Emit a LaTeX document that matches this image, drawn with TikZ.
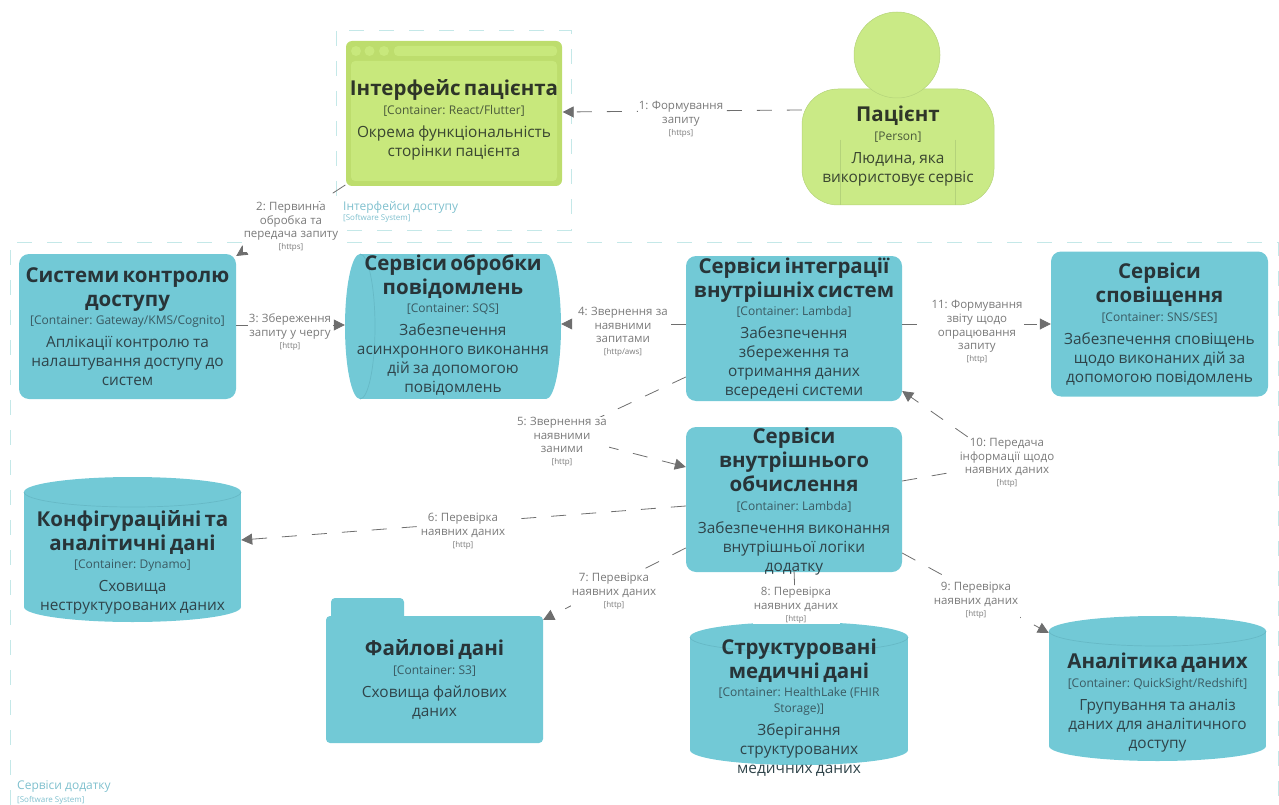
\documentclass[tikz,border=0pt]{standalone}
\usepackage{fontspec}
\setmainfont{Open Sans}
\usetikzlibrary{arrows.meta,backgrounds}
\frenchspacing
\definecolor{blueC}{HTML}{72C9D6}
\definecolor{blueE}{HTML}{66B9C6}
\definecolor{greenO}{HTML}{BDDD6D}
\definecolor{greenI}{HTML}{C8E87C}
\definecolor{greenP}{HTML}{CAEA86}
\definecolor{greenE}{HTML}{B4D37A}
\definecolor{titleC}{HTML}{283438}
\definecolor{bodyC}{HTML}{2F444A}
\definecolor{techC}{HTML}{3A5A62}
\definecolor{lineC}{HTML}{6E6E6E}
\definecolor{lblC}{HTML}{7A7A7A}
\definecolor{bndC}{HTML}{C4E8E8}
\definecolor{capC}{HTML}{7FC0CE}
\newcommand\ct[3]{{\fontsize{20.5}{24}\selectfont\bfseries\color{titleC}#1\par}\vspace{3pt}%
{\fontsize{12}{15.5}\selectfont\color{techC}#2\par}\vspace{4pt}%
{\fontsize{15.4}{19}\selectfont\color{bodyC}#3\par}}
\newcommand\lb[2]{{\fontsize{11.5}{13.7}\selectfont #1\par}{\fontsize{8}{12}\selectfont [#2]\par}}
\newcommand\vcyl[5]{% x1,y1,x2,y2,name
  \pgfmathsetmacro\cxv{(#1+#3)/2}\pgfmathsetmacro\wv{(#3-#1)/2}
  \begin{scope}[on background layer]
  \fill[blueC] (#1,#2+15) rectangle (#3,#4-15);
  \fill[blueC] (\cxv,#2+15) ellipse [x radius=\wv pt,y radius=15pt];
  \fill[blueC] (\cxv,#4-15) ellipse [x radius=\wv pt,y radius=15pt];
  \draw[blueE,line width=.7pt] (#1,#2+15) .. controls (#1,#2+23.3) and (\cxv-.55*\wv,#2+30) .. (\cxv,#2+30) .. controls (\cxv+.55*\wv,#2+30) and (#3,#2+23.3) .. (#3,#2+15);
  \end{scope}}
\tikzset{
  cont/.style={fill=blueC,rounded corners=10pt,minimum width=217pt,minimum height=145pt,text width=215pt,inner sep=0pt,align=center},
  ctxt/.style={minimum width=217pt,text width=215pt,inner sep=0pt,align=center},
  greentxt/.style={execute at begin node={\definecolor{titleC}{HTML}{2E3528}\definecolor{bodyC}{HTML}{3A4630}\definecolor{techC}{HTML}{4A5A3A}}},
  conn/.style={draw=lineC,line width=.8pt,dash pattern=on 15pt off 15pt,-{Triangle[length=11pt,width=11pt]}},
  lbl/.style={fill=white,text=lblC,align=center,inner sep=.5pt,text width=#1},
  bnd/.style={draw=bndC,line width=1pt,dash pattern=on 15pt off 15pt},
  captxt/.style={anchor=west,inner sep=0pt,text=capC}
}
\begin{document}
\begin{tikzpicture}[x=1pt,y=-1pt]
\useasboundingbox (0,0) rectangle (1279,805);
\begin{scope}[on background layer]
  \draw[bnd] (336,31) rectangle (571,230);
  \draw[bnd] (10,805) -- (10,242) -- (1278,242) -- (1278,805);
  % interface window
  \fill[greenO,rounded corners=6pt] (346,41) rectangle (562,186);
  \fill[greenI,rounded corners=4pt] (351,61) rectangle (557,181);
  \fill[greenI,rounded corners=4pt] (394,46) rectangle (557,56);
  \foreach \xd in {356,369.5,384}{\fill[greenI] (\xd,51) circle (5pt);}
  % person
  \fill[greenP,draw=greenE,line width=.5pt,rounded corners=36pt] (802,89) rectangle (994,205);
  \fill[greenP,draw=greenE,line width=.5pt] (897,55) circle (43pt);
  \draw[greenE,line width=.5pt] (840,140) -- (840,205) (955,140) -- (955,205);
  % sqs cylinder
  \fill[blueC] (360,254) rectangle (546,399);
  \fill[blueC] (360,326.5) ellipse [x radius=15pt,y radius=72.5pt];
  \fill[blueC] (546,326.5) ellipse [x radius=15pt,y radius=72.5pt];
  \draw[blueE,line width=.7pt] (360,254) .. controls (368.3,254) and (375,286.5) .. (375,326.5) .. controls (375,366.5) and (368.3,399) .. (360,399);
  % folder tab
  \fill[blueC,rounded corners=4pt] (331,598) rectangle (404,625);
  % internal computation box
  \fill[blueC,rounded corners=10pt] (686,427) rectangle (902,572);
\end{scope}
\vcyl{24}{477}{241}{622}{dyn}
\vcyl{690}{622}{908}{765}{struct}
\vcyl{1049}{616}{1266}{761}{ana}

\node[ctxt,greentxt] (iface) at (454,120) {\ct{Інтерфейс пацієнта}{[Container: React/Flutter]}{Окрема функціональність\\сторінки пацієнта}};
\node[ctxt,greentxt,minimum width=192pt,text width=190pt] (person) at (898,146) {\ct{Пацієнт}{[Person]}{Людина, яка\\використовує сервіс}};
\node[cont] (access) at (127.5,326.5) {\ct{Системи контролю\\доступу}{[Container: Gateway/KMS/Cognito]}{Аплікації контролю та\\налаштування доступу до\\систем}};
\node[ctxt,minimum width=216pt] (sqs) at (453,325) {\ct{Сервіси обробки\\повідомлень}{[Container: SQS]}{Забезпечення\\асинхронного виконання\\дій за допомогою\\повідомлень}};
\node[cont,minimum width=216pt] (integ) at (794,328.5) {\ct{Сервіси інтеграції\\внутрішніх систем}{[Container: Lambda]}{Забезпечення\\збереження та\\отримання даних\\всередені системи}};
\node[cont] (notif) at (1159.5,324) {\ct{Сервіси\\сповіщення}{[Container: SNS/SES]}{Забезпечення сповіщень\\щодо виконаних дій за\\допомогою повідомлень}};
\node[ctxt,minimum width=216pt] (calc) at (794,501.5) {\ct{Сервіси\\внутрішнього\\обчислення}{[Container: Lambda]}{Забезпечення виконання\\внутрішньої логіки\\додатку}};
\node[ctxt] (dyn) at (132.5,562.5) {\ct{Конфігураційні та\\аналітичні дані}{[Container: Dynamo]}{Сховища\\неструктурованих даних}};
\node[cont,rounded corners=4pt,minimum height=127pt] (file) at (434.5,679.5) {\ct{Файлові дані}{[Container: S3]}{Сховища файлових\\даних}};
\node[ctxt,minimum width=218pt] (struct) at (799,707.5) {\ct{Структуровані\\медичні дані}{[Container: HealthLake (FHIR\\Storage)]}{Зберігання\\структурованих\\медичних даних}};
\node[ctxt] (ana) at (1157.5,702.5) {\ct{Аналітика даних}{[Container: QuickSight/Redshift]}{Групування та аналіз\\даних для аналітичного\\доступу}};

\coordinate (way5) at (562,435);
\coordinate (way10) at (1005,463);

\draw[conn] ([yshift=36pt]person.west) -- ([yshift=8pt]iface.east);
\draw[conn] ([yshift=-65pt]iface.west) -- ([yshift=70.5pt]access.east);
\draw[conn] ([yshift=1.5pt]access.east) -- ([yshift=0pt]sqs.west);
\draw[conn] ([yshift=4.5pt]integ.west) -- ([yshift=1pt]sqs.east);
\draw[conn] ([yshift=-48.5pt]integ.west) -- (way5) -- ([yshift=34.5pt]calc.west);
\draw[conn] ([yshift=-4.5pt]calc.west) -- ([yshift=22.5pt]dyn.east);
\draw[conn] ([yshift=-46.5pt]calc.west) -- ([yshift=-4pt]file.north east);
\draw[conn] ([yshift=5pt]calc.south) -- ([yshift=85.5pt,xshift=-3pt]struct.center);
\draw[conn] ([yshift=-51.5pt]calc.east) -- ([yshift=69.5pt]ana.west);
\draw[conn] ([yshift=20.5pt]calc.east) -- (way10) -- ([yshift=-62.5pt]integ.east);
\draw[conn] ([yshift=4.5pt]integ.east) -- ([yshift=0pt]notif.west);

\node[lbl=85pt] (l1) at (681,119) {\lb{1: Формування\\запиту}{https}};
\node[lbl=96pt] (l2) at (291,227) {\lb{2: Первинна\\обробка та\\передача запиту}{https}};
\node[lbl=84pt] (l3) at (290,332) {\lb{3: Збереження\\запиту у чергу}{http}};
\node[lbl=92pt] (l4) at (623,332) {\lb{4: Звернення за\\наявними\\запитами}{http/aws}};
\node[lbl=92pt] (l5) at (562,442) {\lb{5: Звернення за\\наявними\\заними}{http}};
\node[lbl=86pt] (l6) at (463,531) {\lb{6: Перевірка\\наявних даних}{http}};
\node[lbl=86pt] (l7) at (614,591) {\lb{7: Перевірка\\наявних даних}{http}};
\node[lbl=86pt] (l8) at (796,605) {\lb{8: Перевірка\\наявних даних}{http}};
\node[lbl=86pt] (l9) at (976,600) {\lb{9: Перевірка\\наявних даних}{http}};
\node[lbl=96pt] (l10) at (1007,463) {\lb{10: Передача\\інформації щодо\\наявних даних}{http}};
\node[lbl=92pt] (l11) at (977,332) {\lb{11: Формування\\звіту щодо\\опрацювання\\запиту}{http}};

\node[captxt] (c1) at (343,207) {\fontsize{12}{14}\selectfont Інтерфейси доступу};
\node[captxt] (c1b) at (343,218.5) {\fontsize{8}{10}\selectfont [Software System]};
\node[captxt] (c2) at (17,787) {\fontsize{12}{14}\selectfont Сервіси додатку};
\node[captxt] (c2b) at (17,800) {\fontsize{8}{10}\selectfont [Software System]};
\end{tikzpicture}
\end{document}
